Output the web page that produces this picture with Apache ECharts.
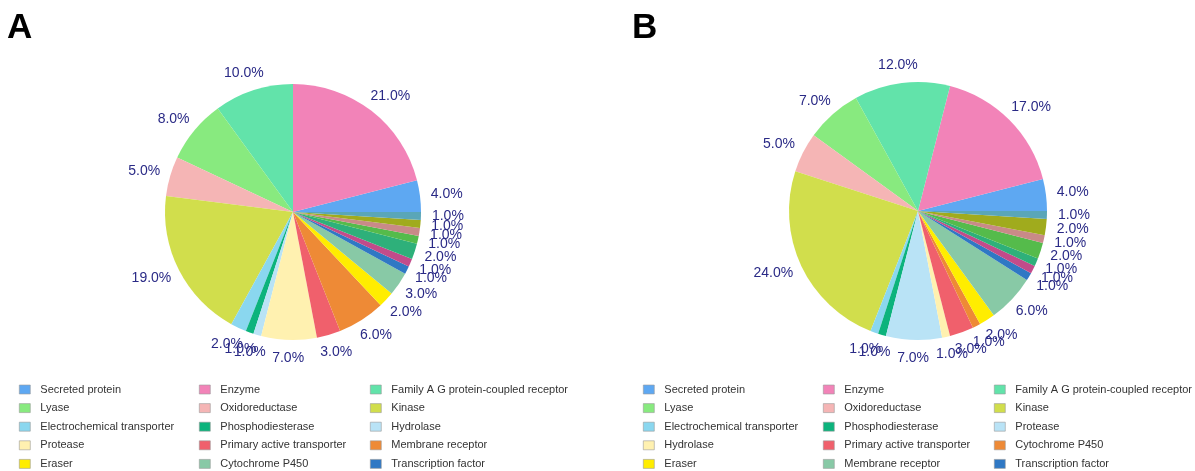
<!DOCTYPE html>
<html>
<head>
<meta charset="utf-8">
<script src="https://cdn.jsdelivr.net/npm/echarts@6/dist/echarts.min.js"></script>
<style>
  html, body { margin: 0; padding: 0; background: #fff; }
  #chart { width: 1195px; height: 471px; }
</style>
</head>
<body>
<div id="chart"></div>
<script>
// ---- data ----
const categoriesA = ['Secreted protein', 'Enzyme', 'Family A G protein-coupled receptor', 'Lyase', 'Oxidoreductase', 'Kinase',
  'Electrochemical transporter', 'Phosphodiesterase', 'Hydrolase', 'Protease', 'Primary active transporter', 'Membrane receptor',
  'Eraser', 'Cytochrome P450', 'Transcription factor',
  'Nuclear receptor', 'Voltage-gated ion channel', 'Ligand-gated ion channel', 'Isomerase', 'Transferase', 'Unclassified protein'];
const valuesA = [4, 21, 10, 8, 5, 19, 2, 1, 1, 7, 3, 6, 2, 3, 1, 1, 2, 1, 1, 1, 1];

const categoriesB = ['Secreted protein', 'Enzyme', 'Family A G protein-coupled receptor', 'Lyase', 'Oxidoreductase', 'Kinase',
  'Electrochemical transporter', 'Phosphodiesterase', 'Protease', 'Hydrolase', 'Primary active transporter', 'Cytochrome P450',
  'Eraser', 'Membrane receptor', 'Transcription factor',
  'Nuclear receptor', 'Voltage-gated ion channel', 'Ligand-gated ion channel', 'Isomerase', 'Transferase', 'Unclassified protein'];
const valuesB = [4, 17, 12, 7, 5, 24, 1, 1, 7, 1, 3, 1, 2, 6, 1, 1, 1, 2, 1, 2, 1];

const palette = ['#5ea8f2', '#f283b8', '#62e3aa', '#88ea7f', '#f5b5b5', '#d1de4c', '#8ad7ef', '#0cb37c', '#b9e3f6',
  '#fff1b0', '#f0606c', '#ee8a36', '#ffed00', '#88c9a6', '#2f78c4', '#c24b8a', '#2eb07a', '#55bb4b', '#c98a88',
  '#a0ab1d', '#5aa6b8'];

const legendShown = 15; // rows visible in the picture: 5 rows x 3 columns

// ---- layout ----
const pies = [
  { cx: 293, cy: 212, r: 128, legendLeft: 19, titleLeft: 7, title: 'A', cats: categoriesA, vals: valuesA },
  { cx: 918, cy: 211, r: 129, legendLeft: 643, titleLeft: 632, title: 'B', cats: categoriesB, vals: valuesB }
];
const GAP = 11;
const colOffsets = [0, 180, 351];
const labelColor = '#2a2a86';
const fontFamily = "'Liberation Sans', Arial, sans-serif";

function makeLabelLayout(p) {
  const total = p.vals.reduce((a, b) => a + b, 0);
  return function (params) {
    let before = 0;
    for (let i = 0; i < params.dataIndex; i++) before += p.vals[i];
    const mid = (before + p.vals[params.dataIndex] / 2) / total * Math.PI * 2;
    const c = Math.cos(mid), s = Math.sin(mid);
    const w = params.labelRect.width, h = params.labelRect.height;
    return {
      x: p.cx + (p.r + GAP) * c + c * w / 2,
      y: p.cy - (p.r + GAP) * s - s * h / 2,
      align: 'center',
      verticalAlign: 'middle'
    };
  };
}

const series = pies.map(p => ({
  type: 'pie',
  center: [p.cx, p.cy],
  radius: p.r,
  startAngle: 0,
  clockwise: false,
  avoidLabelOverlap: false,
  minShowLabelAngle: 0,
  itemStyle: { borderWidth: 0 },
  label: {
    show: true,
    position: 'outside',
    color: labelColor,
    fontSize: 14,
    fontFamily: fontFamily,
    formatter: params => params.percent.toFixed(1) + '%'
  },
  labelLine: { show: false, length: 10, length2: 0 },
  labelLayout: makeLabelLayout(p),
  emphasis: { disabled: true },
  data: p.cats.map((name, i) => ({ name: name, value: p.vals[i], itemStyle: { color: palette[i] } }))
}));

const legends = [];
pies.forEach(p => {
  for (let col = 0; col < 3; col++) {
    const items = [];
    for (let i = col; i < legendShown; i += 3) {
      items.push({ name: p.cats[i], itemStyle: { color: palette[i], borderColor: '#9a9a9a', borderWidth: 0.6 } });
    }
    legends.push({
      orient: 'vertical',
      left: p.legendLeft + colOffsets[col],
      top: 383.5,
      height: 140,
      padding: 0,
      itemWidth: 11,
      itemHeight: 9,
      itemGap: 6.6,
      icon: 'rect',
      selectedMode: false,
      textStyle: { fontSize: 11, lineHeight: 12, color: '#333', fontFamily: fontFamily, padding: [0, 0, 0, 5] },
      data: items
    });
  }
});

const chart = echarts.init(document.getElementById('chart'));
chart.setOption({
  animation: false,
  backgroundColor: '#fff',
  title: pies.map(p => ({
    text: p.title,
    left: p.titleLeft,
    top: 11,
    padding: 0,
    textStyle: { fontSize: 35, fontWeight: 'bold', color: '#000', fontFamily: fontFamily }
  })),
  legend: legends,
  series: series
});
</script>
</body>
</html>
